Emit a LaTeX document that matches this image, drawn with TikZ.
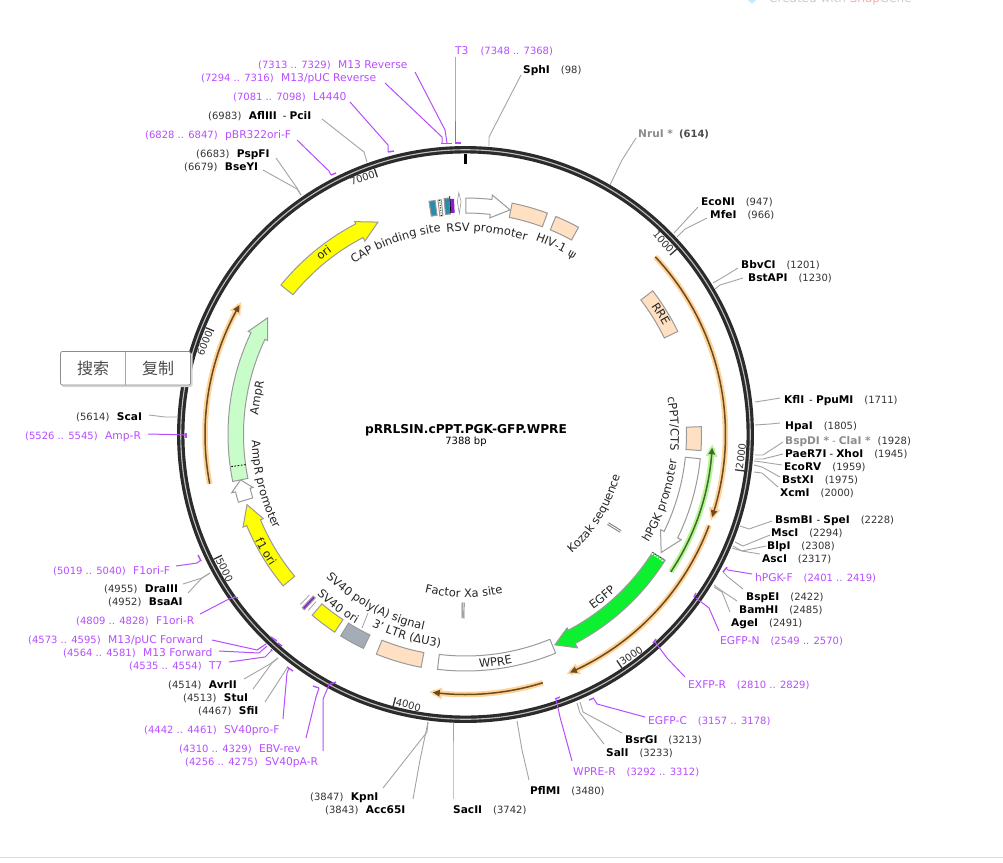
\documentclass[tikz,border=0pt]{standalone}
\usepackage{fontspec}
\setmainfont{DejaVu Sans}
\newfontfamily\cjkf{Noto Sans CJK SC}
\usetikzlibrary{decorations.text}
\definecolor{primerc}{HTML}{B84DFF}
\definecolor{numc}{HTML}{333333}
\definecolor{ringc}{HTML}{2B2B2B}
\definecolor{bordc}{HTML}{9A9A9A}
\definecolor{leadc}{HTML}{A4A4A4}
\definecolor{peach}{HTML}{FFE0C2}
\definecolor{yel}{HTML}{FFFF00}
\definecolor{gfp}{HTML}{0CF02F}
\definecolor{ampc}{HTML}{C8FCC8}
\definecolor{tealc}{HTML}{2A8CA8}
\definecolor{purp}{HTML}{8A1FD0}
\definecolor{slate}{HTML}{A4ACB6}
\definecolor{orah}{HTML}{FFD397}
\definecolor{orac}{HTML}{6A4A1E}
\definecolor{grnh}{HTML}{B8F59A}
\definecolor{grnc}{HTML}{3F6B2A}
\def\cxx{465.5}
\def\cyy{434.5}
\newcommand{\SX}[2]{\cxx+(#1)*sin(#2)}
\newcommand{\SY}[2]{\cyy-(#1)*cos(#2)}
\tikzset{
  lbl/.style={anchor=base west,inner sep=0pt,font=\fontsize{10}{12}\selectfont},
  plbl/.style={lbl,text=primerc},
  gline/.style={draw=leadc,line width=0.9pt},
  pline/.style={draw=primerc,line width=1pt},
  feat/.style={draw=bordc,line width=1pt,line join=miter},
  ticklab/.style={inner sep=1.5pt,text=numc,font=\fontsize{10}{12}\selectfont}
}
\newcommand{\pn}[1]{{\fontsize{10.7}{12}\selectfont #1}}
\newcommand{\bb}[1]{{\fontsize{10.6}{12}\selectfont\textbf{#1}}}
\newcommand{\nb}[2]{\textcolor{numc}{#1}\hspace{7.5pt}\bb{#2}}
\newcommand{\bn}[2]{\bb{#1}\hspace{11pt}\textcolor{numc}{#2}}
\newcommand{\sitel}[7]{%
  \node[lbl] (#1) at ({#2},{#3+4.1}) {#4};
  \coordinate (#1a) at #5; \coordinate (#1b) at #6; \coordinate (#1c) at #7;
  \draw[gline] (#1a) -- (#1b) -- (#1c);}
\newcommand{\primer}[9]{%
  \node[plbl] (#1) at ({#2},{#3+4.1}) {#4};
  \coordinate (#1a) at #5; \coordinate (#1b) at #6; \coordinate (#1c) at #7;
  \coordinate (#1f) at #8; \coordinate (#1g) at #9;
  \draw[pline] (#1a) -- (#1b) -- (#1c);
  \draw[pline,line width=1.4pt] (#1f) -- (#1g);}
% fill, th1, th2, r1, r2
\newcommand{\boxf}[5]{\draw[feat,fill=#1]
  plot[domain=#2:#3,samples=25] ({\SX{#5}{\x}},{\SY{#5}{\x}})
  -- plot[domain=#3:#2,samples=25] ({\SX{#4}{\x}},{\SY{#4}{\x}}) -- cycle;}
% fill, th start, th base, th tip, r1, r2, wing1, wing2
\newcommand{\arrowf}[8]{\draw[feat,fill=#1]
  plot[domain=#2:#3,samples=25] ({\SX{#6}{\x}},{\SY{#6}{\x}})
  -- ({\SX{#8}{#3}},{\SY{#8}{#3}})
  -- ({\SX{(#5+#6)/2}{#4}},{\SY{(#5+#6)/2}{#4}})
  -- ({\SX{#7}{#3}},{\SY{#7}{#3}})
  -- plot[domain=#3:#2,samples=25] ({\SX{#5}{\x}},{\SY{#5}{\x}}) -- cycle;}
% radius, th start, th tip, dir(+1/-1), halo, core
\newcommand{\band}[6]{%
  \pgfmathsetmacro\bandend{#3-(#4)*1.0}
  \draw[#5,line width=5.5pt] plot[domain=#2:#3,samples=40] ({\SX{#1}{\x}},{\SY{#1}{\x}});
  \fill[#5] ({\SX{#1+6}{#3-(#4)*2.0}},{\SY{#1+6}{#3-(#4)*2.0}}) -- ({\SX{#1}{#3+(#4)*0.8}},{\SY{#1}{#3+(#4)*0.8}}) -- ({\SX{#1-6}{#3-(#4)*2.0}},{\SY{#1-6}{#3-(#4)*2.0}}) -- cycle;
  \draw[#6,line width=1.5pt] plot[domain=#2:\bandend,samples=40] ({\SX{#1}{\x}},{\SY{#1}{\x}});
  \fill[#6] ({\SX{#1+3.4}{#3-(#4)*1.5}},{\SY{#1+3.4}{#3-(#4)*1.5}}) -- ({\SX{#1}{#3}},{\SY{#1}{#3}}) -- ({\SX{#1-3.4}{#3-(#4)*1.5}},{\SY{#1-3.4}{#3-(#4)*1.5}}) -- cycle;}
% radial stroke: style, r1, r2, th
\newcommand{\RAD}[4]{\draw[#1] ({\SX{#2}{#4}},{\SY{#2}{#4}}) -- ({\SX{#3}{#4}},{\SY{#3}{#4}});}
% curved labels: text, centre radius, centre angle
\newcommand{\arccw}[3]{%
  \pgfmathsetmacro\aaa{#3-45}\pgfmathsetmacro\bbb{#3+45}\pgfmathsetmacro\rrr{#2-3.8}
  \path[postaction={decorate,decoration={text along path,text align=center,text={|\fontsize{11.5}{13}\selectfont\color{black!85}|#1}}}] plot[domain=\aaa:\bbb,samples=60] ({\SX{\rrr}{\x}},{\SY{\rrr}{\x}});}
\newcommand{\arcccw}[3]{%
  \pgfmathsetmacro\aaa{#3+45}\pgfmathsetmacro\bbb{#3-45}\pgfmathsetmacro\rrr{#2+3.8}
  \path[postaction={decorate,decoration={text along path,text align=center,text={|\fontsize{11.5}{13}\selectfont\color{black!85}|#1}}}] plot[domain=\aaa:\bbb,samples=60] ({\SX{\rrr}{\x}},{\SY{\rrr}{\x}});}
% tick label: coordinate name, node name, angle, anchor, rotation, text
\newcommand{\ticklabel}[6]{%
  \coordinate (#1) at ({\SX{276}{#3}},{\SY{276}{#3}});
  \node[ticklab,anchor=#4,rotate=#5] (#2) at (#1) {#6};}
\begin{document}
\begin{tikzpicture}[x=1pt,y=-1pt]
\useasboundingbox (0,0) rectangle (1003,862);
\clip (0,0) rectangle (1003,862);
\fill[white] (0,0) rectangle (1003,862);

% watermark (cut off by the top edge)
\node[anchor=base west,inner sep=0pt,font=\fontsize{12}{14}\selectfont] (wm) at (769,2.5) {\textcolor[HTML]{CCCCCC}{Created with }\textcolor[HTML]{F4AFAF}{Snap}\textcolor[HTML]{CCCCCC}{Gene}};
\fill[cyan!25] (748,0) -- (756,0) -- (752,3.5) -- cycle;
\draw[black!14,line width=1pt] (0,857.5) -- (1003,857.5);

% backbone
\draw[ringc,line width=7.4pt] (\cxx,\cyy) circle [radius=284.75];
\draw[black!25,line width=1.1pt] (\cxx,\cyy) circle [radius=284.75];

% numbering
\RAD{black,line width=2.6pt}{271}{281}{0}
\foreach \ang in {48.727,97.454,146.18,194.91,243.64,292.36,341.09}{
  \RAD{numc,line width=1.3pt}{272}{281}{\ang}
}
\ticklabel{t1}{n1}{48.727}{east}{-48.727}{1000}
\ticklabel{t2}{n2}{97.454}{west}{82.546}{2000}
\ticklabel{t3}{n3}{146.18}{west}{33.82}{3000}
\ticklabel{t4}{n4}{194.91}{west}{-14.91}{4000}
\ticklabel{t5}{n5}{243.64}{west}{-63.64}{5000}
\ticklabel{t6}{n6}{292.36}{east}{67.64}{6000}
\ticklabel{t7}{n7}{341.09}{east}{18.91}{7000}

% thin translated bands
\band{260}{46.9}{108.5}{1}{orah}{orac}
\band{260}{110.5}{156.3}{1}{orah}{orac}
\band{260}{162.7}{187.2}{1}{orah}{orac}
\band{260.5}{259.1}{299.8}{1}{orah}{orac}
\band{247}{123.8}{93.1}{-1}{grnh}{grnc}

% boxes
\boxf{peach}{52.5}{64.1}{221}{236}
\boxf{peach}{88.1}{93.9}{221}{236}
\boxf{white}{157.6}{186.8}{221.5}{236.5}
\boxf{peach}{190.8}{202.1}{222}{237}
\boxf{slate}{205.5}{211.8}{222}{237}
\boxf{yel}{213.5}{220.3}{222}{237}
\boxf{peach}{11.4}{20.3}{221.5}{236}
\boxf{peach}{22.5}{28.6}{221.5}{236}
% arrows
\arrowf{white}{95.9}{116}{121.1}{221}{236}{217}{240}
\arrowf{gfp}{122.2}{152.3}{157}{221}{236}{218.5}{241}
\arrowf{yel}{230.3}{247.4}{252.2}{222}{237}{219}{241}
\arrowf{white}{253.4}{256}{258.6}{222}{237}{219}{241}
\arrowf{ampc}{258.6}{295.4}{300.5}{222}{237.5}{219}{240.5}
\arrowf{yel}{309}{332.5}{337.6}{222}{237.5}{218}{240}
\arrowf{white}{0.1}{6.4}{11.2}{221.5}{236.5}{218}{241}
% dotted ends
\RAD{black,line width=0.9pt,dash pattern=on 1.6pt off 1.6pt}{222}{237}{262.2}
\RAD{white,line width=1.4pt,dash pattern=on 1.6pt off 1.4pt}{221}{236}{122.6}
\RAD{black,line width=0.5pt,dash pattern=on 1pt off 2pt}{221}{236}{122.2}

% small features near SV40
\RAD{bordc,line width=0.7pt}{224}{236}{221.8}
\boxf{purp}{222.6}{223.3}{222}{238}
\RAD{bordc,line width=0.7pt}{224}{237}{224.2}
% small features near the top
\boxf{tealc}{351.1}{352.6}{221}{236}
\boxf{white}{353.3}{354.1}{220}{236}
\RAD{black,line width=0.8pt,dash pattern=on 1pt off 1.5pt}{220}{236}{353.7}
\boxf{tealc}{354.8}{356.1}{221}{237}
\fill[purp] plot[domain=356.2:357.2,samples=5] ({\SX{236}{\x}},{\SY{236}{\x}}) -- plot[domain=357.2:356.2,samples=5] ({\SX{222}{\x}},{\SY{222}{\x}}) -- cycle;
\RAD{black,line width=0.7pt}{222}{239}{356.2}
\draw[bordc,line width=0.6pt,fill=white] ({\SX{221}{358.4}},{\SY{221}{358.4}}) -- ({\SX{233}{358}},{\SY{233}{358}}) -- ({\SX{242}{358.4}},{\SY{242}{358.4}}) -- ({\SX{233}{358.9}},{\SY{233}{358.9}}) -- cycle;
\coordinate (lead1) at (368,613); \coordinate (lead2) at (362,628);
\draw[bordc,line width=0.7pt] (lead1) -- (lead2);
% short sites
\RAD{black!55,line width=2.8pt}{168}{183}{122}
\RAD{white,line width=0.9pt}{167}{184}{122}
\RAD{black!55,line width=2.8pt}{168}{184}{180.8}
\RAD{white,line width=0.9pt}{167}{185}{180.8}

% feature labels
\arccw{CAP binding site}{208}{340}
\arccw{RSV promoter}{207}{6}
\arccw{HIV-1 ψ}{210}{25.7}
\arccw{RRE}{229.5}{58.3}
\arccw{cPPT/CTS}{209}{87}
\arcccw{hPGK promoter}{209}{108.8}
\arcccw{Kozak sequence}{156}{121.5}
\arcccw{EGFP}{213}{140}
\arcccw{WPRE}{230}{172.5}
\arcccw{Factor Xa site}{159}{180.6}
\arcccw{3' LTR (ΔU3)}{210}{196.4}
\arcccw{SV40 poly(A) signal}{196}{208.2}
\arcccw{SV40 ori}{215}{216.5}
\arcccw{f1 ori}{232}{239.6}
\arcccw{AmpR promoter}{210}{256}
\arccw{AmpR}{212}{280}
\arccw{ori}{230}{322}

% title
\node[font=\fontsize{12.2}{14}\selectfont\bfseries,inner sep=0pt] (title) at (466,430) {pRRLSIN.cPPT.PGK-GFP.WPRE};
\node[font=\fontsize{10}{12}\selectfont,inner sep=0pt] (size) at (466,442) {7388 bp};

% enzyme sites, clockwise
\sitel{sph}{523}{69}{\bn{SphI}{(98)}}{(521,75)}{(489,137)}{(489,146)}
\sitel{nru}{638}{133}{\textcolor{black!45}{\bb{NruI *}}\hspace{6pt}\textcolor{black!70}{\textbf{(614)}}}{(636,138)}{(622,160)}{(610,185)}
\sitel{econ}{701}{201}{\bn{EcoNI}{(947)}}{(698,207)}{(686,220)}{(674,233)}
\sitel{mfe}{710}{214}{\bn{MfeI}{(966)}}{(707,218)}{(685,229)}{(677,237)}
\sitel{bbv}{741}{264}{\bn{BbvCI}{(1201)}}{(738,268)}{(725,276)}{(713,283)}
\sitel{bsta}{748}{277}{\bn{BstAPI}{(1230)}}{(743,278)}{(720,285)}{(715,289)}
\sitel{kfl}{784}{399}{\bb{KflI}\hspace{5pt}- \bb{PpuMI}\hspace{11pt}\textcolor{numc}{(1711)}}{(780,398)}{(768,400)}{(755,402)}
\sitel{hpa}{785}{425}{\bn{HpaI}{(1805)}}{(780,423)}{(770,424)}{(755,425)}
\sitel{bspd}{785}{440}{\textcolor{black!45}{\bb{BspDI *}\hspace{3pt}- \bb{ClaI *}}\hspace{7pt}\textcolor{numc}{(1928)}}{(783,442)}{(763,455)}{(755,455)}
\sitel{pae}{785}{453}{\bb{PaeR7I}\hspace{3pt}- \bb{XhoI}\hspace{11pt}\textcolor{numc}{(1945)}}{(783,454)}{(763,459)}{(755,459)}
\sitel{ecor}{784}{466}{\bn{EcoRV}{(1959)}}{(782,465)}{(762,462)}{(754,461)}
\sitel{bstx}{782}{479}{\bn{BstXI}{(1975)}}{(780,477)}{(762,467)}{(754,465)}
\sitel{xcm}{780}{492}{\bn{XcmI}{(2000)}}{(778,487)}{(762,473)}{(754,472)}
\sitel{bsm}{775}{519}{\bb{BsmBI}\hspace{4pt}- \bb{SpeI}\hspace{11pt}\textcolor{numc}{(2228)}}{(772,521)}{(749,529)}{(740,526)}
\sitel{msc}{771}{532}{\bn{MscI}{(2294)}}{(770,535)}{(743,546)}{(735,542)}
\sitel{blp}{767}{545}{\bn{BlpI}{(2308)}}{(766,546)}{(742,551)}{(733,546)}
\sitel{asc}{762}{558}{\bn{AscI}{(2317)}}{(760,554)}{(742,551)}{(732,548)}
\sitel{bspe}{746}{596}{\bn{BspEI}{(2422)}}{(743,589)}{(728,577)}{(723,572)}
\sitel{bam}{739}{609}{\bn{BamHI}{(2485)}}{(737,601)}{(722,591)}{(714,585)}
\sitel{age}{731}{622}{\bn{AgeI}{(2491)}}{(730,612)}{(722,592)}{(714,587)}
\sitel{bsrg}{625}{739}{\bn{BsrGI}{(3213)}}{(622,733)}{(583,712)}{(580,702)}
\sitel{sal}{606}{752}{\bn{SalI}{(3233)}}{(604,744)}{(580,713)}{(577,703)}
\sitel{pfl}{530}{790}{\bn{PflMI}{(3480)}}{(529,780)}{(522,750)}{(517,721)}
\sitel{sac}{453}{809}{\bn{SacII}{(3742)}}{(453,799)}{(453,760)}{(453,723)}
\sitel{acc}{325}{809}{\nb{(3843)}{Acc65I}}{(413,799)}{(420,760)}{(428,722)}
\sitel{kpn}{310}{796}{\nb{(3847)}{KpnI}}{(383,788)}{(427,732)}{(428,722)}
\sitel{sfi}{198}{710}{\nb{(4467)}{SfiI}}{(265,702)}{(278,682)}{(287,668)}
\sitel{stu}{183}{697}{\nb{(4513)}{StuI}}{(253,689)}{(272,663)}{(278,658)}
\sitel{avr}{168}{684}{\nb{(4514)}{AvrII}}{(244,679)}{(270,664)}{(278,658)}
\sitel{bsaa}{108}{601}{\nb{(4952)}{BsaAI}}{(188,593)}{(202,578)}{(210,573)}
\sitel{dra}{104}{588}{\nb{(4955)}{DraIII}}{(183,584)}{(202,578)}{(210,573)}
\sitel{sca}{76}{416}{\nb{(5614)}{ScaI}}{(149,415)}{(165,417)}{(177,417)}
\sitel{bse}{184}{166}{\nb{(6679)}{BseYI}}{(263,170)}{(297,189)}{(301,195)}
\sitel{psp}{196}{153}{\nb{(6683)}{PspFI}}{(276,158)}{(297,188)}{(301,195)}
\sitel{afl}{208}{115}{\textcolor{numc}{(6983)}\hspace{7.5pt}\bb{AflIII}\hspace{6pt}- \bb{PciI}}{(322,119)}{(364,152)}{(367,162)}

% primers
\primer{tthree}{455}{50}{\pn{T3}\hspace{12pt}(7348 .. 7368)}{(455,57)}{(455,100)}{(455,143)}{(455,143)}{(461,143)}
\primer{mrev}{258}{64}{(7313 .. 7329)\hspace{7.5pt}\pn{M13 Reverse}}{(415,72)}{(445,130)}{(447,143)}{(444,143.5)}{(452,143.5)}
\primer{mpuc}{201}{77}{(7294 .. 7316)\hspace{7.5pt}\pn{M13/pUC Reverse}}{(385,83)}{(442,137)}{(442,143)}{(441,143.5)}{(447,143.5)}
\primer{lfour}{233}{96}{(7081 .. 7098)\hspace{7.5pt}\pn{L4440}}{(350,102)}{(388,145)}{(388,152)}{(388,152)}{(394,151)}
\primer{pbr}{145}{134}{(6828 .. 6847)\hspace{7.5pt}\pn{pBR322ori-F}}{(297,140)}{(329,171)}{(331,175)}{(331,175)}{(336,173)}
\primer{hpgk}{755}{577}{\pn{hPGK-F}\hspace{11pt}(2401 .. 2419)}{(752,574)}{(728,570)}{(726,568)}{(723,572)}{(727,567)}
\primer{egfn}{720}{640}{\pn{EGFP-N}\hspace{11pt}(2549 .. 2570)}{(719,631)}{(709,608)}{(696,598)}{(694,597)}{(696,593)}
\primer{exfr}{688}{684}{\pn{EXFP-R}\hspace{11pt}(2810 .. 2829)}{(685,677)}{(667,658)}{(655,642)}{(653,643)}{(656,639)}
\primer{egfc}{648}{720}{\pn{EGFP-C}\hspace{11pt}(3157 .. 3178)}{(645,717)}{(597,704)}{(594,699)}{(589,700)}{(594,698)}
\primer{wprer}{573}{771}{\pn{WPRE-R}\hspace{11pt}(3292 .. 3312)}{(572,761)}{(560,717)}{(556,699)}{(555,699)}{(560,697)}
\primer{svpa}{185}{761}{(4256 .. 4275)\hspace{7.5pt}\pn{SV40pA-R}}{(323,751)}{(323,699)}{(329,685)}{(328,685)}{(336,682)}
\primer{ebv}{179}{748}{(4310 .. 4329)\hspace{7.5pt}\pn{EBV-rev}}{(306,738)}{(316,697)}{(319,688)}{(313,686)}{(319,688)}
\primer{svpf}{144}{729}{(4442 .. 4461)\hspace{7.5pt}\pn{SV40pro-F}}{(283,719)}{(287,673)}{(289,668)}{(287,667)}{(293,671)}
\primer{tseven}{129}{665}{(4535 .. 4554)\hspace{7.5pt}\pn{T7}}{(229,662)}{(265,657)}{(272,650)}{(271,649)}{(272,651)}
\primer{mfwd}{63}{652}{(4564 .. 4581)\hspace{7.5pt}\pn{M13 Forward}}{(219,651)}{(259,653)}{(267,646)}{(278,643)}{(282,646)}
\primer{mpf}{28}{639}{(4573 .. 4595)\hspace{7.5pt}\pn{M13/pUC Forward}}{(212,640)}{(257,650)}{(266,644)}{(271,637)}{(277,641)}
\primer{fr}{76}{620}{(4809 .. 4828)\hspace{7.5pt}\pn{F1ori-R}}{(200,614)}{(227,600)}{(234,597)}{(234,597)}{(238,598)}
\primer{ff}{53}{570}{(5019 .. 5040)\hspace{7.5pt}\pn{F1ori-F}}{(176,566)}{(197,563)}{(201,560)}{(198,555)}{(201,561)}
\primer{ampr}{25}{435}{(5526 .. 5545)\hspace{7.5pt}\pn{Amp-R}}{(148,434)}{(170,434.5)}{(186,435)}{(186,433)}{(186,438)}

% floating toolbar
\fill[black!16,rounded corners=2pt] (61.5,353) rectangle (192.5,387);
\draw[black!45,fill=white,rounded corners=2pt,line width=0.8pt] (60.5,351.5) rectangle (190.5,385);
\coordinate (divt) at (125.5,351.5); \coordinate (divb) at (125.5,385);
\draw[black!35,line width=0.8pt] (divt) -- (divb);
\node[font=\cjkf\fontsize{16}{18}\selectfont,text=black!70,inner sep=0pt] (sou) at (93,368.5) {搜索};
\node[font=\cjkf\fontsize{16}{18}\selectfont,text=black!70,inner sep=0pt] (fuz) at (158,368.5) {复制};
\end{tikzpicture}
\end{document}
